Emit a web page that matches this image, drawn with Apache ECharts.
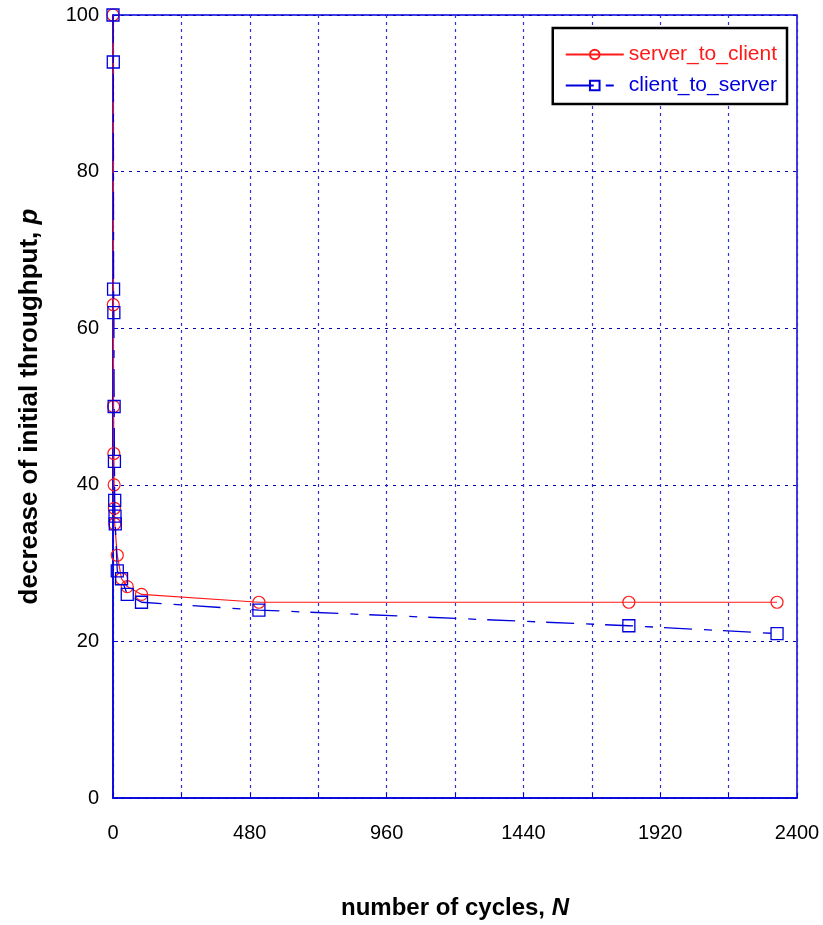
<!DOCTYPE html>
<html>
<head>
<meta charset="utf-8">
<script src="https://cdn.jsdelivr.net/npm/echarts@6/dist/echarts.min.js"></script>
<style>
  html, body { margin: 0; padding: 0; background: #fff; }
  #chart { width: 823px; height: 925px; }
</style>
</head>
<body>
<div id="chart"></div>
<script>
// Throughput decrease vs. number of cycles
const serverToClientN = [0, 1, 2, 3, 4, 5, 6, 15, 30, 50, 100, 512, 1810, 2330];
const serverToClientP = [100, 63, 50, 44, 40, 37, 35, 31, 28, 27, 26, 25, 25, 25];
const clientToServerN = [0, 1, 2, 3, 4, 5, 6, 7, 8, 15, 30, 50, 100, 512, 1810, 2330];
const clientToServerP = [100, 94, 65, 62, 50, 43, 38, 36, 35, 29, 28, 26, 25, 24, 22, 21];
const xTickLabels = [0, 480, 960, 1440, 1920, 2400];
const yTickLabels = [0, 20, 40, 60, 80, 100];

const pairs = (xs, ys) => xs.map((x, i) => [x, ys[i]]);

const RED = '#ff1a1a';
const BLUE = '#0000dd';
const FONT = '"Liberation Sans", Arial, sans-serif';

const chart = echarts.init(document.getElementById('chart'), null, { renderer: 'canvas' });

chart.setOption({
  animation: false,
  backgroundColor: '#ffffff',
  grid: {
    left: 113, right: 26, top: 15, bottom: 127,
    show: true, borderColor: BLUE, borderWidth: 1.5, backgroundColor: 'transparent'
  },
  legend: {
    orient: 'vertical',
    right: 36, top: 28,
    padding: [16, 10, 8, 12],
    itemGap: 10,
    itemWidth: 58, itemHeight: 12,
    borderColor: '#000', borderWidth: 2.5,
    backgroundColor: '#fff',
    textStyle: { fontFamily: FONT, fontSize: 21 },
    data: [
      { name: 'server_to_client', textStyle: { color: RED } },
      { name: 'client_to_server', textStyle: { color: BLUE } }
    ]
  },
  xAxis: {
    type: 'value',
    min: 0, max: 2400, interval: 240,
    name: '{b|number of cycles, }{bi|N}',
    nameLocation: 'middle',
    nameGap: 98,
    nameTextStyle: {
      rich: {
        b: { fontFamily: FONT, fontSize: 24, fontWeight: 'bold', color: '#000' },
        bi: { fontFamily: FONT, fontSize: 24, fontWeight: 'bold', fontStyle: 'italic', color: '#000' }
      }
    },
    axisLine: { show: true, lineStyle: { color: BLUE, width: 1.5 } },
    axisTick: { show: true, inside: true, length: 5, lineStyle: { color: BLUE, width: 1 } },
    axisLabel: {
      margin: 25,
      fontFamily: FONT, fontSize: 20, color: '#000',
      formatter: v => (xTickLabels.indexOf(v) >= 0 ? String(v) : '')
    },
    splitLine: { show: true, lineStyle: { color: '#3030d8', width: 1.2, type: [3, 4] } }
  },
  yAxis: {
    type: 'value',
    min: 0, max: 100, interval: 20,
    name: '{b|decrease of initial throughput, }{bi|p}',
    nameLocation: 'middle',
    nameGap: 70,
    nameRotate: 90,
    nameTextStyle: {
      rich: {
        b: { fontFamily: FONT, fontSize: 26, fontWeight: 'bold', color: '#000' },
        bi: { fontFamily: FONT, fontSize: 26, fontWeight: 'bold', fontStyle: 'italic', color: '#000' }
      }
    },
    axisLine: { show: true, lineStyle: { color: BLUE, width: 1.5 } },
    axisTick: { show: true, inside: true, length: 5, lineStyle: { color: BLUE, width: 1 } },
    axisLabel: {
      margin: 14,
      fontFamily: FONT, fontSize: 20, color: '#000',
      formatter: v => (yTickLabels.indexOf(v) >= 0 ? String(v) : '')
    },
    splitLine: { show: true, lineStyle: { color: '#0000b0', width: 1, type: [3, 5] } }
  },
  series: [
    {
      name: 'server_to_client',
      type: 'line',
      data: pairs(serverToClientN, serverToClientP),
      symbol: 'circle',
      symbolSize: 12,
      showAllSymbol: true,
      lineStyle: { color: RED, width: 1.2 },
      itemStyle: { color: 'rgba(255,255,255,0)', borderColor: RED, borderWidth: 1.2 },
      z: 2
    },
    {
      name: 'client_to_server',
      type: 'line',
      data: pairs(clientToServerN, clientToServerP),
      symbol: 'rect',
      symbolSize: 12,
      showAllSymbol: true,
      lineStyle: { color: BLUE, width: 1.3, type: [28, 12, 8, 11] },
      itemStyle: { color: 'rgba(255,255,255,0)', borderColor: BLUE, borderWidth: 1.3 },
      z: 3
    }
  ]
});
</script>
</body>
</html>
